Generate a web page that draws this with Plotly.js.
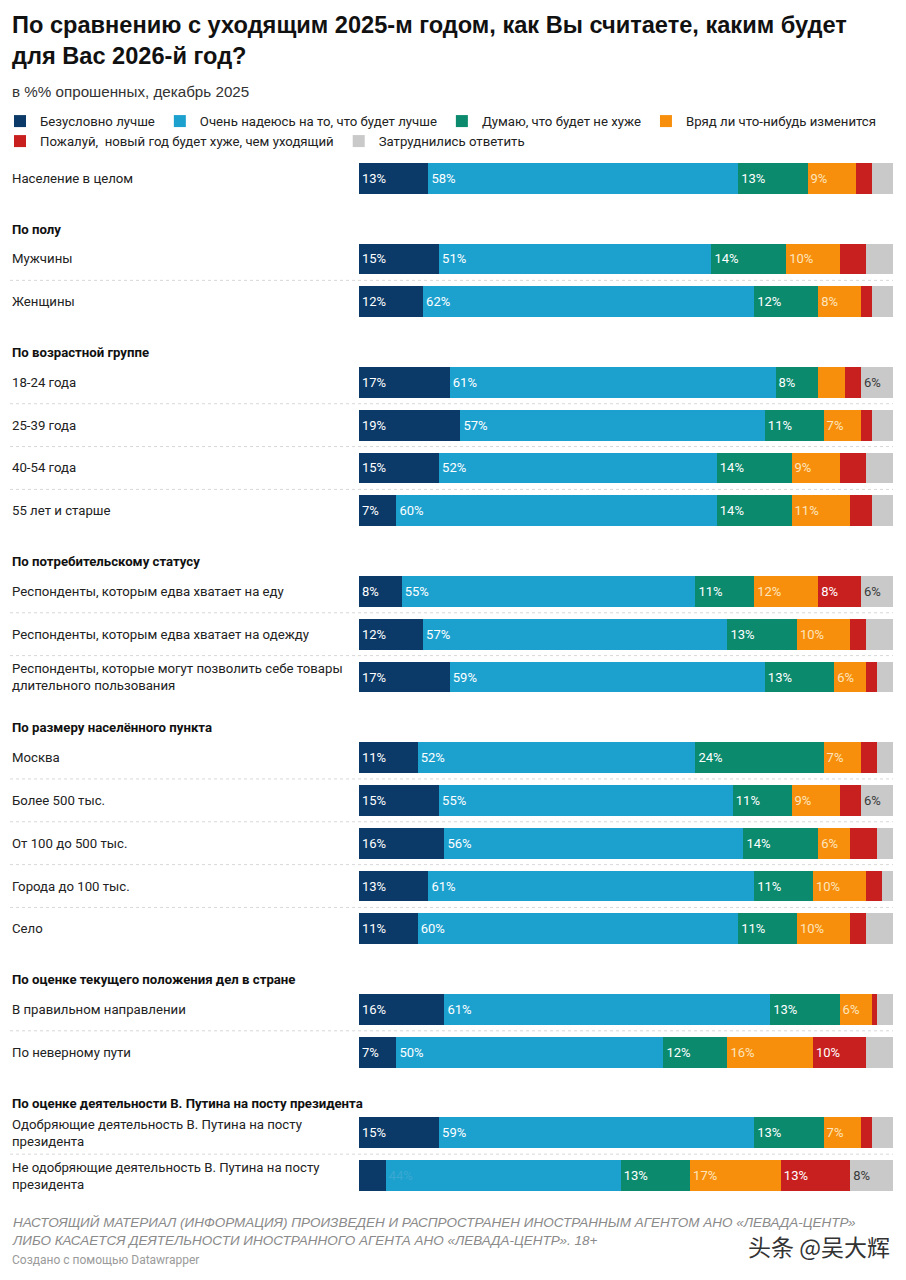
<!DOCTYPE html>
<html>
<head>
<meta charset="utf-8">
<script src="https://cdn.plot.ly/plotly-3.0.1.min.js"></script>
<style>
  html, body { margin: 0; padding: 0; background: #fff; }
  #chart { width: 906px; height: 1280px; }
</style>
</head>
<body>
<div id="chart"></div>
<script>
// ---------- DATA ----------
const groupHeaders = [
  "",
  "По полу",
  "По возрастной группе",
  "По потребительскому статусу",
  "По размеру населённого пункта",
  "По оценке текущего положения дел в стране",
  "По оценке деятельности В. Путина на посту президента"
];

const rowLabels = [
  "Население в целом",
  "Мужчины",
  "Женщины",
  "18-24 года",
  "25-39 года",
  "40-54 года",
  "55 лет и старше",
  "Респонденты, которым едва хватает на еду",
  "Респонденты, которым едва хватает на одежду",
  "Респонденты, которые могут позволить себе товары<br>длительного пользования",
  "Москва",
  "Более 500 тыс.",
  "От 100 до 500 тыс.",
  "Города до 100 тыс.",
  "Село",
  "В правильном направлении",
  "По неверному пути",
  "Одобряющие деятельность В. Путина на посту<br>президента",
  "Не одобряющие деятельность В. Путина на посту<br>президента"
];

const rowGroup = [0, 1, 1, 2, 2, 2, 2, 3, 3, 3, 4, 4, 4, 4, 4, 5, 5, 6, 6];

const seriesNames = [
  "Безусловно лучше",
  "Очень надеюсь на то, что будет лучше",
  "Думаю, что будет не хуже",
  "Вряд ли что-нибудь изменится",
  "Пожалуй,  новый год будет хуже, чем уходящий",
  "Затруднились ответить"
];

const certainlyBetter = [13, 15, 12, 17, 19, 15, 7, 8, 12, 17, 11, 15, 16, 13, 11, 16, 7, 15, 5];
const hopeBetter      = [58, 51, 62, 61, 57, 52, 60, 55, 57, 59, 52, 55, 56, 61, 60, 61, 50, 59, 44];
const notWorse        = [13, 14, 12, 8, 11, 14, 14, 11, 13, 13, 24, 11, 14, 11, 11, 13, 12, 13, 13];
const unlikelyChange  = [9, 10, 8, 5, 7, 9, 11, 12, 10, 6, 7, 9, 6, 10, 10, 6, 16, 7, 17];
const worse           = [3, 5, 2, 3, 2, 5, 4, 8, 3, 2, 3, 4, 5, 3, 3, 1, 10, 2, 13];
const hardToSay       = [4, 5, 4, 6, 4, 5, 4, 6, 5, 3, 3, 6, 3, 3, 5, 3, 5, 4, 8];

const titleText = "По сравнению с уходящим 2025-м годом, как Вы считаете, каким будет<br>для Вас 2026-й год?";
const subtitleText = "в %% опрошенных, декабрь 2025";
const noteText = "НАСТОЯЩИЙ МАТЕРИАЛ (ИНФОРМАЦИЯ) ПРОИЗВЕДЕН И РАСПРОСТРАНЕН ИНОСТРАННЫМ АГЕНТОМ АНО «ЛЕВАДА-ЦЕНТР»<br>ЛИБО КАСАЕТСЯ ДЕЯТЕЛЬНОСТИ ИНОСТРАННОГО АГЕНТА АНО «ЛЕВАДА-ЦЕНТР». 18+";
const creditText = "Создано с помощью Datawrapper";
const watermarkText = "头条 @吴大辉";

// ---------- STYLE ----------
const colors = ["#0b3a68", "#1ca1cf", "#0b8a6e", "#f78f0d", "#c8201f", "#c9c9c9"];
const textColors = ["#ffffff", "#ffffff", "#ffffff", "#fde5bd", "#ffffff", "#3a3a3a"];
const legendOf = ["legend", "legend", "legend", "legend", "legend2", "legend2"];
const FONT = "Roboto, 'Liberation Sans', Arial, sans-serif";
const HFONT = "'Liberation Sans', Arial, Helvetica, sans-serif";
const W = 906, H = 1280;
const LEFT = 359, RIGHT_EDGE = 893, TOP = 157, BOTTOM = 1197;

const pxToPaperX = px => (px - LEFT) / (RIGHT_EDGE - LEFT);
const pxToPaperY = py => (BOTTOM - py) / (BOTTOM - TOP);

// ---------- ROW POSITIONS (derived from order & grouping) ----------
const HEADER_GAP = 1.88, HEADER_OFFSET = 1.19;
const ypos = [];
const headerY = [];
rowLabels.forEach((_, i) => {
  if (i === 0) { ypos.push(0); return; }
  const prev = ypos[i - 1];
  if (rowGroup[i] !== rowGroup[i - 1]) {
    headerY.push({ g: rowGroup[i], y: prev + HEADER_OFFSET });
    ypos.push(prev + HEADER_GAP);
  } else {
    ypos.push(prev + 1);
  }
});

const allSeries = [certainlyBetter, hopeBetter, notWorse, unlikelyChange, worse, hardToSay];

const traces = allSeries.map((vals, s) => {
  const txtCol = vals.map((v, i) => {
    if (s === 1 && i === vals.length - 1) return "#3aa8d1"; // faint label as in source
    return textColors[s];
  });
  return {
    type: "bar",
    orientation: "h",
    name: seriesNames[s],
    legend: legendOf[s],
    x: vals,
    y: ypos,
    width: 0.72,
    marker: { color: colors[s], line: { width: 0 } },
    text: vals.map(v => (v >= 6 ? v + "%" : "")),
    textposition: "inside",
    insidetextanchor: "start",
    textangle: 0,
    constraintext: "none",
    textfont: { family: FONT, size: 13, color: txtCol },
    hoverinfo: "skip"
  };
});

const annotations = [];
rowLabels.forEach((lab, i) => {
  annotations.push({
    xref: "paper", yref: "y",
    x: pxToPaperX(10), y: ypos[i],
    xanchor: "left", yanchor: "middle", align: "left",
    text: lab, showarrow: false,
    font: { family: FONT, size: 13.2, color: "#222" }
  });
});
headerY.forEach(h => {
  annotations.push({
    xref: "paper", yref: "y",
    x: pxToPaperX(10), y: h.y,
    xanchor: "left", yanchor: "middle", align: "left",
    text: "<b>" + groupHeaders[h.g] + "</b>", showarrow: false,
    font: { family: FONT, size: 13.2, color: "#111" }
  });
});

annotations.push({
  xref: "paper", yref: "paper", x: pxToPaperX(10), y: pxToPaperY(10),
  xanchor: "left", yanchor: "top", align: "left", showarrow: false,
  text: "<b>" + titleText + "</b>",
  font: { family: HFONT, size: 23.6, color: "#111" }
});
annotations.push({
  xref: "paper", yref: "paper", x: pxToPaperX(10), y: pxToPaperY(91),
  xanchor: "left", yanchor: "middle", align: "left", showarrow: false,
  text: subtitleText,
  font: { family: HFONT, size: 15.2, color: "#333" }
});
annotations.push({
  xref: "paper", yref: "paper", x: pxToPaperX(10), y: pxToPaperY(1231),
  xanchor: "left", yanchor: "middle", align: "left", showarrow: false,
  text: "<i>" + noteText + "</i>",
  font: { family: HFONT, size: 13.5, color: "#8a8a8a" }
});
annotations.push({
  xref: "paper", yref: "paper", x: pxToPaperX(10), y: pxToPaperY(1260),
  xanchor: "left", yanchor: "middle", align: "left", showarrow: false,
  text: creditText,
  font: { family: FONT, size: 12, color: "#9a9a9a" }
});
annotations.push({
  xref: "paper", yref: "paper", x: pxToPaperX(892), y: pxToPaperY(1246),
  xanchor: "right", yanchor: "middle", align: "right", showarrow: false,
  text: watermarkText,
  font: { family: "'Noto Sans CJK SC', sans-serif", size: 23, color: "#333" }
});

// dotted separators between rows of the same group
const shapes = [];
for (let i = 1; i < rowLabels.length; i++) {
  if (rowGroup[i] === rowGroup[i - 1]) {
    const ym = (ypos[i] + ypos[i - 1]) / 2;
    shapes.push({
      type: "line", xref: "paper", yref: "y",
      x0: pxToPaperX(10), x1: 1, y0: ym, y1: ym,
      line: { color: "#d8d8d8", width: 1, dash: "dot" }
    });
  }
}

const yMax = ypos[ypos.length - 1];

const legendBase = {
  orientation: "h",
  xref: "paper", yref: "paper",
  x: pxToPaperX(0),
  xanchor: "left", yanchor: "top",
  traceorder: "normal",
  font: { family: FONT, size: 13.2, color: "#222" },
  itemclick: false, itemdoubleclick: false,
  tracegroupgap: 0,
  bgcolor: "rgba(0,0,0,0)"
};

const layout = {
  width: W, height: H,
  paper_bgcolor: "#ffffff", plot_bgcolor: "#ffffff",
  margin: { l: LEFT, r: W - RIGHT_EDGE, t: TOP, b: H - BOTTOM, pad: 0, autoexpand: false },
  barmode: "stack",
  bargap: 0,
  hovermode: false,
  font: { family: FONT, size: 13, color: "#222" },
  xaxis: { range: [0, 100], visible: false, fixedrange: true },
  yaxis: { range: [yMax + 0.5, -0.5], visible: false, fixedrange: true },
  showlegend: true,
  legend: Object.assign({}, legendBase, { y: pxToPaperY(106) }),
  legend2: Object.assign({}, legendBase, { y: pxToPaperY(126) }),
  annotations: annotations,
  shapes: shapes
};

Plotly.newPlot("chart", traces, layout, { displayModeBar: false, staticPlot: true });
</script>
</body>
</html>
